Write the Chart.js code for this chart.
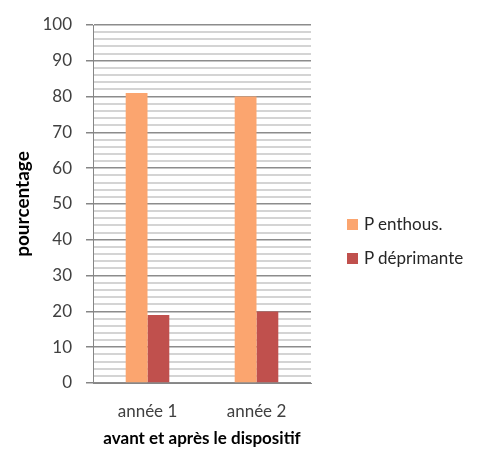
<!DOCTYPE html>
<html>
<head>
<meta charset="utf-8">
<script src="https://cdn.jsdelivr.net/npm/chart.js@4/dist/chart.umd.min.js"></script>
<style>
  html, body { margin: 0; padding: 0; background: #fff; }
  #wrap { position: relative; width: 486px; height: 455px; }
  #legend { position: absolute; left: 347px; top: 214px; font: 17px Lato, sans-serif; color: #262626; }
  .item { position: relative; height: 20px; line-height: 20px; margin-bottom: 14px; white-space: nowrap; }
  .sw { position: absolute; left: 0; top: 5px; width: 11px; height: 11px; }
  .txt { position: absolute; left: 17px; top: 0; }
</style>
</head>
<body>
<div id="wrap">
  <canvas id="c" width="486" height="455"></canvas>
  <div id="legend"></div>
</div>
<script>
var categories   = ["année 1", "année 2"];
var enthous      = [81, 80];
var deprimante   = [19, 20];
var seriesNames  = ["P enthous.", "P déprimante"];
var yTickLabels  = ["0", "10", "20", "30", "40", "50", "60", "70", "80", "90", "100"];
var xTitle = "avant et après le dispositif";
var yTitle = "pourcentage";

var colors = ["#fba56f", "#c0504d"];
var tickFont = { family: "Lato", size: 17 };

// major every 10, minor lines every 2 (no labels, no tick marks on those)
function isMajor(v) { return v % 10 === 0; }

var chart = new Chart(document.getElementById("c"), {
  type: "bar",
  data: {
    labels: categories,
    datasets: [
      { label: seriesNames[0], data: enthous,    backgroundColor: colors[0] },
      { label: seriesNames[1], data: deprimante, backgroundColor: colors[1] }
    ]
  },
  options: {
    responsive: false,
    animation: false,
    layout: { padding: { left: 0, right: 175, top: 25, bottom: 0 } },
    datasets: { bar: { categoryPercentage: 0.4, barPercentage: 1.0 } },
    plugins: { legend: { display: false }, tooltip: { enabled: false } },
    scales: {
      x: {
        grid: { display: false, drawTicks: false },
        border: { display: true, color: "#868686" },
        ticks: { color: "#404040", font: tickFont, padding: 18 },
        title: {
          display: true, text: xTitle, color: "#000",
          font: { family: "Lato", size: 17, weight: "bold" },
          padding: { top: 0, bottom: 6 }
        },
        afterFit: function(s) { s.height = 72; }
      },
      y: {
        min: 0, max: 100,
        ticks: {
          stepSize: 2, autoSkip: false, color: "#404040", font: tickFont, padding: 14,
          callback: function(v) { return isMajor(v) ? yTickLabels[v / 10] : ""; }
        },
        grid: {
          color: function(ctx) { return isMajor(ctx.tick.value) ? "#8c8c8c" : "#d4d4d4"; },
          lineWidth: function(ctx) { return isMajor(ctx.tick.value) ? 1.5 : 2; },
          tickColor: function(ctx) { return isMajor(ctx.tick.value) ? "#868686" : "rgba(0,0,0,0)"; },
          tickLength: 7
        },
        border: { display: true, color: "#868686" },
        title: {
          display: true, text: yTitle, color: "#000",
          font: { family: "Lato", size: 19, weight: "bold" },
          padding: { top: 11, bottom: 0 }
        },
        afterFit: function(s) { s.width = 93; }
      }
    }
  }
});

// legend as html so it can sit where the original has it
var lg = document.getElementById("legend");
chart.data.datasets.forEach(function(ds) {
  var it = document.createElement("div");
  it.className = "item";
  it.innerHTML = '<span class="sw" style="background:' + ds.backgroundColor + '"></span><span class="txt"></span>';
  it.querySelector(".txt").textContent = ds.label;
  lg.appendChild(it);
});
</script>
</body>
</html>
